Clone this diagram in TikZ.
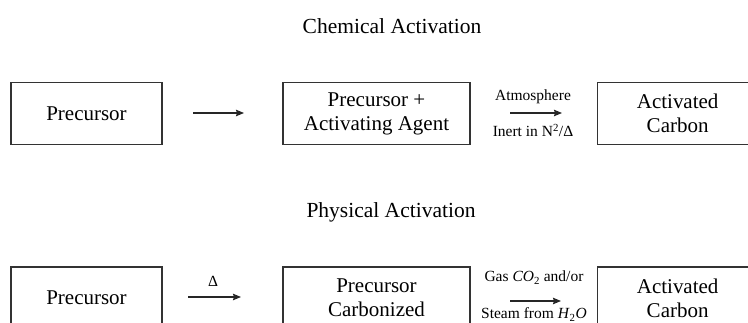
\documentclass[tikz,border=0pt]{standalone}
\usepackage{fontspec}
\setmainfont{Liberation Serif}
\usetikzlibrary{arrows.meta}
\begin{document}
\begin{tikzpicture}[x=1pt,y=-1pt,
  box/.style={draw=black!80,line width=1.3pt,minimum height=62pt,inner sep=0pt,
     font=\fontsize{21}{24}\selectfont,align=center},
  title/.style={font=\fontsize{21.5}{25}\selectfont},
  lab/.style={font=\fontsize{15.5}{18}\selectfont,inner sep=0pt},
  arr/.style={-{Stealth[length=8pt,width=6.5pt,inset=1pt]},line width=1.3pt,black!85}]
\useasboundingbox (0,0) rectangle (748,323);
\begin{scope}
\clip (0,0) rectangle (748,323);
\node[title] (t1) at (392,26) {Chemical Activation};
\node[box,minimum width=151pt] (a1) at (86.5,113.5) {Precursor};
\node[box,minimum width=187pt] (a2) at (376.5,113.5) {Precursor +\\Activating Agent};
\node[box,minimum width=160pt,anchor=west] (a3) at (597,113.5) {Activated\\Carbon};
\coordinate (p1) at (193,113);
\coordinate (p2) at (244,113);
\draw[arr] (p1) -- (p2);
\coordinate (q1) at (510,113);
\coordinate (q2) at (562,113);
\draw[arr] (q1) -- (q2);
\node[lab,anchor=base] (l1) at (533,101) {Atmosphere};
\node[lab,anchor=base] (l2) at (533,137) {Inert in N\textsuperscript{2}/Δ};

\node[title] (t2) at (391,212) {Physical Activation};
\node[box,minimum width=151pt] (b1) at (86.5,298) {Precursor};
\node[box,minimum width=187pt] (b2) at (376.5,298) {Precursor\\Carbonized};
\node[box,minimum width=160pt,anchor=west] (b3) at (597,298) {Activated\\Carbon};
\coordinate (r1) at (188,297);
\coordinate (r2) at (241,297);
\draw[arr] (r1) -- (r2);
\node[lab,anchor=base] (d) at (213,287) {Δ};
\coordinate (s1) at (510,301);
\coordinate (s2) at (561,301);
\draw[arr] (s1) -- (s2);
\node[lab,anchor=base] (g1) at (534,282) {Gas \textit{CO}\textsubscript{2} and/or};
\node[lab,anchor=base] (g2) at (534,319) {Steam from \textit{H}\textsubscript{2}\textit{O}};
\end{scope}
\end{tikzpicture}
\end{document}
